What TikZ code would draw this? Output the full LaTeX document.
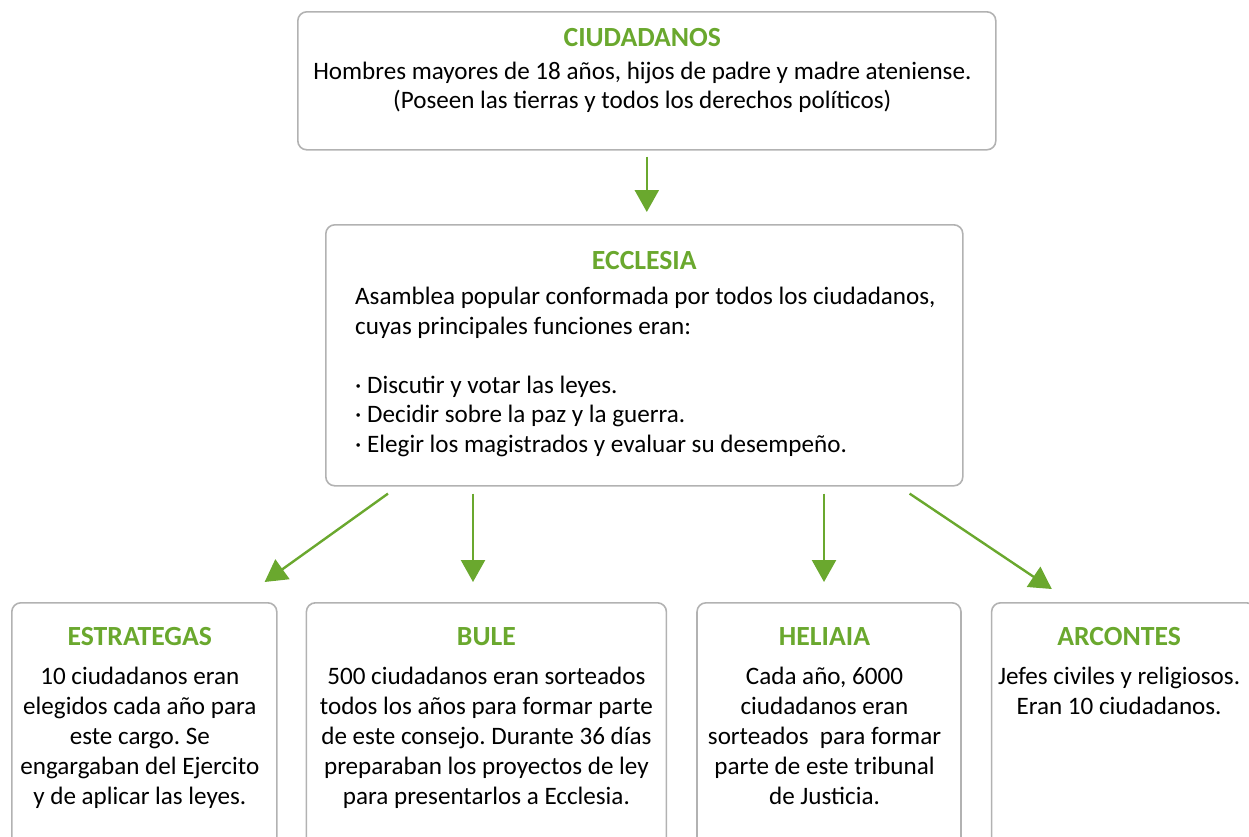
\documentclass[tikz,border=0pt]{standalone}
\usepackage{fontspec}
\setmainfont{Carlito}
\usetikzlibrary{arrows.meta, positioning}
\definecolor{verde}{RGB}{106,168,46}
\definecolor{gris}{RGB}{178,178,178}
\frenchspacing

\begin{document}
\begin{tikzpicture}[
  x=1pt, y=-1pt, >={Triangle[length=22pt,width=24pt]},
  caja/.style={draw=gris, line width=1.6pt, rounded corners=9pt, anchor=north west, inner sep=0pt},
  titulo/.style={text=verde, font=\fontsize{27.7}{30}\selectfont\bfseries, inner sep=0pt},
  cuerpo/.style={font=\fontsize{25.1}{30}\selectfont, align=center, inner sep=0pt},
  flecha/.style={->, draw=verde, line width=2.4pt},
  ]
  \useasboundingbox (0,0) rectangle (1249,836);
  \clip (0,0) rectangle (1249,836);

  % cajas
  \node[caja, minimum width=698pt, minimum height=138pt] (ciud) at (297,11) {};
  \node[caja, minimum width=637pt, minimum height=261pt] (eccl) at (325,224) {};
  \node[caja, minimum width=265pt, minimum height=260pt] (estr) at (11,602) {};
  \node[caja, minimum width=360pt, minimum height=260pt] (bule) [right=28pt of estr] {};
  \node[caja, minimum width=264pt, minimum height=260pt] (heli) [right=29pt of bule] {};
  \node[caja, minimum width=264pt, minimum height=260pt] (arco) [right=29pt of heli] {};

  % textos
  \node[titulo] (t_ciud) [below=17pt of ciud.north, xshift=-4.5pt] {CIUDADANOS};
  \node[cuerpo, font=\fontsize{25.1}{29}\selectfont] (c_ciud) [below=51pt of ciud.north, xshift=-4.5pt]
    {Hombres mayores de 18 años, hijos de padre y madre ateniense.\\(Poseen las tierras y todos los derechos políticos)};

  \node[titulo] (t_eccl) [below=27pt of eccl.north] {ECCLESIA};
  \node[cuerpo, align=left, font=\fontsize{25.1}{29.5}\selectfont] (c_eccl) [below right=63pt and 30pt of eccl.north west]
    {Asamblea popular conformada por todos los ciudadanos,\\cuyas principales funciones eran:\\[29.5pt]
     · Discutir y votar las leyes.\\· Decidir sobre la paz y la guerra.\\· Elegir los magistrados y evaluar su desempeño.};

  \node[titulo] (t_estr) [below=25pt of estr.north, xshift=-4.5pt] {ESTRATEGAS};
  \node[cuerpo] (c_estr) [below=65pt of estr.north, xshift=-4.5pt]
    {10 ciudadanos eran\\elegidos cada año para\\este cargo. Se\\engargaban del Ejercito\\y de aplicar las leyes.};

  \node[titulo] (t_bule) [below=25pt of bule.north] {BULE};
  \node[cuerpo] (c_bule) [below=65pt of bule.north]
    {500 ciudadanos eran sorteados\\todos los años para formar parte\\de este consejo. Durante 36 días\\preparaban los proyectos de ley\\para presentarlos a Ecclesia.};

  \node[titulo] (t_heli) [below=25pt of heli.north, xshift=-4.5pt] {HELIAIA};
  \node[cuerpo] (c_heli) [below=65pt of heli.north, xshift=-4.5pt]
    {Cada año, 6000\\ciudadanos eran\\sorteados\ \ para formar\\parte de este tribunal\\de Justicia.};

  \node[titulo] (t_arco) [below=25pt of arco.north, xshift=-4.5pt] {ARCONTES};
  \node[cuerpo] (c_arco) [below=65pt of arco.north, xshift=-4.5pt]
    {Jefes civiles y religiosos.\\Eran 10 ciudadanos.};

  % flechas
  \coordinate (s_ciud) at ([yshift=-6pt]ciud.south);
  \coordinate (s_bule) at ([xshift=148pt,yshift=-7pt]eccl.south west);
  \coordinate (s_heli) at ([xshift=499pt,yshift=-7pt]eccl.south west);
  \draw[flecha] (s_ciud) -- ([yshift=12pt]s_ciud |- eccl.north);
  \draw[flecha] ([xshift=63pt,yshift=-7pt]eccl.south west) -- ([xshift=-13pt,yshift=20pt]estr.north east);
  \draw[flecha] (s_bule) -- ([yshift=20pt]s_bule |- bule.north);
  \draw[flecha] (s_heli) -- ([yshift=20pt]s_heli |- heli.north);
  \draw[flecha] ([xshift=-54pt,yshift=-7pt]eccl.south east) -- ([xshift=61pt,yshift=13pt]arco.north west);
\end{tikzpicture}
\end{document}
